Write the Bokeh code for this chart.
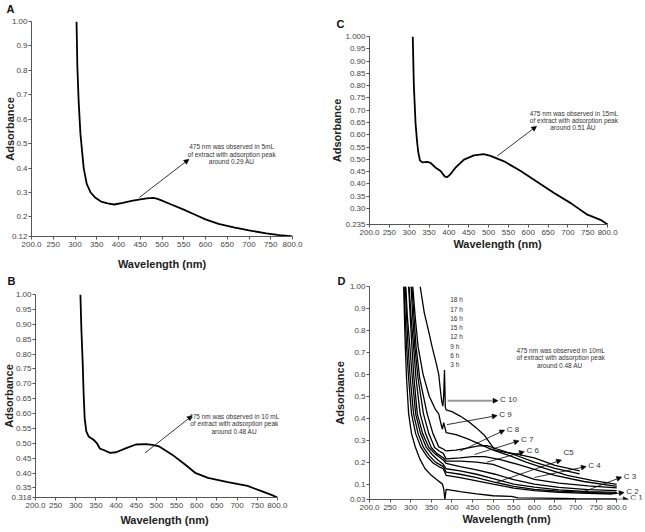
from bokeh.plotting import figure
from bokeh.layouts import column, row
from bokeh.models import Range1d, FixedTicker, Arrow, NormalHead, Label, Title
from bokeh.embed import file_html
from bokeh.resources import INLINE

# ---------------- data ----------------
x_ticks = [200, 250, 300, 350, 400, 450, 500, 550, 600, 650, 700, 750, 800]
x_tick_labels = ["200.0", "250", "300", "350", "400", "450", "500", "550", "600",
                 "650", "700", "750", "800.0"]

# Panel A (5 mL)
a_wl = [303.5, 305.5, 308.5, 312.5, 320, 327, 336, 346, 360, 375, 390, 410, 430, 450,
        465, 480, 490, 500, 520, 550, 575, 600, 630, 665, 700, 740, 770, 795, 800]
a_abs = [1.00, 0.81, 0.67, 0.54, 0.40, 0.335, 0.30, 0.28, 0.263, 0.256, 0.251, 0.258,
         0.266, 0.272, 0.276, 0.278, 0.274, 0.267, 0.252, 0.230, 0.210, 0.190, 0.172,
         0.157, 0.145, 0.133, 0.126, 0.121, 0.12]
a_yticks = [0.12, 0.2, 0.3, 0.4, 0.5, 0.6, 0.7, 0.8, 0.9, 1.0]
a_ylabels = ["0.12", "0.2", "0.3", "0.4", "0.5", "0.6", "0.7", "0.8", "0.9", "1.00"]
a_note = ["475 nm was observed in 5mL", "of extract with adsorption peak", "around 0.29 AU"]

# Panel B (10 mL)
b_wl = [311.4, 313.8, 317, 319.5, 322, 326, 331.7, 344, 352, 360, 372, 385, 400, 425,
        449, 474, 490, 506, 539, 571, 596, 628, 677, 726, 759, 787, 800]
b_abs = [1.0, 0.884, 0.773, 0.662, 0.584, 0.54, 0.523, 0.512, 0.501, 0.482, 0.476, 0.468,
         0.47, 0.484, 0.496, 0.497, 0.495, 0.49, 0.462, 0.429, 0.401, 0.384, 0.37, 0.357,
         0.34, 0.326, 0.318]
b_yticks = [0.318, 0.35, 0.40, 0.45, 0.50, 0.55, 0.60, 0.65, 0.70, 0.75, 0.80, 0.85,
            0.90, 0.95, 1.00]
b_ylabels = ["0.318", "0.35", "0.40", "0.45", "0.50", "0.55", "0.60", "0.65", "0.70",
             "0.75", "0.80", "0.85", "0.90", "0.95", "1.00"]
b_note = ["475 nm was observed in 10 mL", "of extract with adsorption peak", "around 0.48 AU"]

# Panel C (15 mL)
c_wl = [309, 311.7, 316, 320, 322.7, 327, 333, 345, 354, 366, 379, 390, 396, 404, 417,
        438, 463, 488, 505, 539, 581, 623, 665, 707, 749, 782, 800]
c_abs = [1.0, 0.803, 0.647, 0.57, 0.531, 0.496, 0.488, 0.49, 0.486, 0.467, 0.453, 0.43,
         0.428, 0.44, 0.467, 0.499, 0.516, 0.521, 0.514, 0.492, 0.453, 0.408, 0.363,
         0.322, 0.275, 0.254, 0.235]
c_yticks = [0.235, 0.30, 0.35, 0.40, 0.45, 0.50, 0.55, 0.60, 0.65, 0.70, 0.75, 0.80,
            0.85, 0.90, 0.95, 1.000]
c_ylabels = ["0.235", "0.30", "0.35", "0.40", "0.45", "0.50", "0.55", "0.60", "0.65",
             "0.70", "0.75", "0.80", "0.85", "0.90", "0.95", "1.000"]
c_note = ["475 nm was observed in 15mL", "of extract with adsorption peak", "around 0.51  AU"]

# Panel D (10 mL, time course)
d_wl = {
    "C 10": [323, 333, 343, 352, 362, 368, 372, 375, 378, 380, 382, 384, 386, 400, 420,
             440, 460, 480, 495, 505, 530, 560, 600, 650, 710],
    "C 9": [305, 311, 318, 330, 345, 360, 368, 374, 377, 380, 386, 410, 440, 470,
            500, 540, 580, 620, 680, 740, 800],
    "C 8": [303, 308, 313, 322, 340, 354, 368, 379, 386, 410, 440, 465, 485,
            510, 550, 600, 650, 710],
    "C 7": [301, 305, 310, 318, 331, 344, 358, 370, 379, 386, 420, 450, 480, 520,
            560, 600, 650, 720, 800],
    "C 6": [296, 301, 307, 313, 323, 336, 350, 363, 379, 386, 420, 460, 500, 550,
            600, 660, 730, 800],
    "C5": [295, 299, 303, 308, 316, 329, 344, 358, 370, 379, 386, 420, 460, 505, 550,
           600, 660, 730, 800],
    "C 4": [288, 292, 298, 304, 312, 324, 338, 352, 366, 379, 386, 420, 460, 500, 550,
            600, 660, 730, 800],
    "C 3": [287, 290, 293.6, 299, 307, 318, 331, 345, 360, 379, 386, 420, 460, 500, 550,
            600, 660, 730, 800],
    "C 2": [284, 287, 290, 295, 302, 312, 325, 340, 355, 368, 379, 386, 420, 460, 500, 550,
            600, 660, 730, 790],
    "C 1": [283, 285, 287, 290, 295, 302, 311, 322, 335, 350, 365, 377, 380, 383, 386, 420,
            460, 500, 545, 560, 620, 700, 800],
}
d_abs = {
    "C 10": [1.0, 0.88, 0.8, 0.725, 0.65, 0.6, 0.53, 0.48, 0.455, 0.5, 0.62, 0.45, 0.438,
             0.43, 0.41, 0.385, 0.355, 0.32, 0.28, 0.255, 0.245, 0.235, 0.22, 0.185, 0.16],
    "C 9": [1.0, 0.86, 0.725, 0.6, 0.5, 0.44, 0.42, 0.37, 0.35, 0.38, 0.335, 0.325,
            0.305, 0.28, 0.255, 0.23, 0.2, 0.175, 0.14, 0.117, 0.099],
    "C 8": [1.0, 0.86, 0.725, 0.58, 0.42, 0.33, 0.27, 0.26, 0.251, 0.255, 0.265,
            0.274, 0.275, 0.26, 0.235, 0.2, 0.172, 0.147],
    "C 7": [1.0, 0.86, 0.725, 0.58, 0.42, 0.33, 0.267, 0.25, 0.24, 0.215, 0.22, 0.225,
            0.225, 0.21, 0.19, 0.167, 0.14, 0.112, 0.09],
    "C 6": [1.0, 0.86, 0.725, 0.58, 0.42, 0.33, 0.267, 0.24, 0.22, 0.205, 0.205, 0.2,
            0.19, 0.155, 0.122, 0.105, 0.092, 0.083],
    "C5": [1.0, 0.86, 0.725, 0.58, 0.42, 0.33, 0.267, 0.24, 0.222, 0.21, 0.195, 0.18, 0.165,
           0.145, 0.12, 0.1, 0.085, 0.075, 0.07],
    "C 4": [1.0, 0.86, 0.725, 0.58, 0.42, 0.33, 0.267, 0.235, 0.21, 0.19, 0.17, 0.16, 0.145,
            0.125, 0.1, 0.086, 0.074, 0.066, 0.062],
    "C 3": [1.0, 0.86, 0.725, 0.58, 0.42, 0.33, 0.267, 0.23, 0.2, 0.18, 0.155, 0.145, 0.13,
            0.11, 0.09, 0.076, 0.068, 0.062, 0.058],
    "C 2": [1.0, 0.85, 0.725, 0.58, 0.42, 0.33, 0.267, 0.225, 0.195, 0.18, 0.17, 0.14, 0.13,
            0.115, 0.1, 0.082, 0.07, 0.063, 0.058, 0.055],
    "C 1": [1.0, 0.85, 0.72, 0.58, 0.42, 0.33, 0.27, 0.215, 0.17, 0.14, 0.118, 0.1, 0.08,
            0.03, 0.076, 0.066, 0.056, 0.047, 0.044, 0.037, 0.036, 0.034, 0.033],
}
d_yticks = [0.03, 0.1, 0.2, 0.3, 0.4, 0.5, 0.6, 0.7, 0.8, 0.9, 1.0]
d_ylabels = ["0.03", "0.1", "0.2", "0.3", "0.4", "0.5", "0.6", "0.7", "0.8", "0.9", "1.00"]
d_hours = ["18 h", "17 h", "16 h", "15 h", "12 h", "9 h", "6 h", "3 h"]
d_note = ["475 nm was observed in 10mL", "of extract with adsorption peak", "around 0.48  AU"]
# arrow (start wl, start abs) -> (end wl, end abs) for each curve label
d_arrow_start = {"C 10": (389.5, 0.48), "C 9": (388, 0.371), "C 8": (420, 0.25),
                 "C 7": (455, 0.235), "C 6": (485, 0.2), "C5": (505, 0.106),
                 "C 4": (600, 0.13), "C 3": (712, 0.06), "C 2": (791, 0.055),
                 "C 1": (795, 0.031)}
d_arrow_end = {"C 10": (512, 0.48), "C 9": (510, 0.412), "C 8": (528, 0.346),
               "C 7": (563, 0.297), "C 6": (576, 0.248), "C5": (666, 0.21),
               "C 4": (726, 0.18), "C 3": (812, 0.132), "C 2": (818, 0.062),
               "C 1": (828, 0.031)}

FONT = "Liberation Sans"


def style(p, yticks, ylabels, letter, title_offset, ystand, xstand, spacer):
    p.xgrid.visible = False
    p.ygrid.visible = False
    p.outline_line_color = None
    p.frame_align = False
    p.xaxis.ticker = FixedTicker(ticks=x_ticks)
    p.xaxis.major_label_overrides = {t: l for t, l in zip(x_ticks, x_tick_labels)}
    p.xaxis.bounds = (200, 800)
    p.yaxis.ticker = FixedTicker(ticks=yticks)
    p.yaxis.major_label_overrides = {t: l for t, l in zip(yticks, ylabels)}
    p.xaxis.axis_label = "Wavelength (nm)"
    p.yaxis.axis_label = "Adsorbance"
    for ax in (p.xaxis[0], p.yaxis[0]):
        ax.axis_line_color = "#555555"
        ax.axis_line_width = 1
        ax.major_tick_line_color = "#555555"
        ax.minor_tick_line_color = None
        ax.major_tick_out = 3
        ax.major_tick_in = 0
        ax.major_label_text_font = FONT
        ax.major_label_text_font_size = "8px"
        ax.major_label_text_color = "#444444"
        ax.major_label_standoff = 1
        ax.axis_label_text_font = FONT
        ax.axis_label_text_font_style = "bold"
        ax.axis_label_text_font_size = "11px"
        ax.axis_label_text_color = "#222222"
    p.yaxis[0].axis_label_standoff = ystand
    p.xaxis[0].axis_label_standoff = xstand
    p.xaxis[0].major_label_standoff = 2
    p.title.text = letter
    p.title.text_font = FONT
    p.title.text_font_size = "11px"
    p.title.text_font_style = "bold"
    p.title.text_color = "#111111"
    p.title.align = "left"
    p.title.offset = title_offset
    p.title.standoff = 0
    if spacer:
        # empty spacer between the panel letter and the frame
        p.add_layout(Title(text=" ", text_font_size=spacer, standoff=0), "above")


def note(p, lines, xc, ys, size="6.5px"):
    for t, y in zip(lines, ys):
        p.add_layout(Label(x=xc, y=y, text=t, text_align="center", text_baseline="middle",
                           text_font=FONT, text_font_size=size, text_color="#333333"))


def arrow(p, x0, y0, x1, y1, color="black", width=0.8, size=5):
    p.add_layout(Arrow(end=NormalHead(size=size, fill_color="black", line_color="black",
                                      line_width=0.5),
                       x_start=x0, y_start=y0, x_end=x1, y_end=y1,
                       line_color=color, line_width=width))


# ---------------- Panel A ----------------
pA = figure(width=320, height=272, x_range=Range1d(200, 800), y_range=Range1d(0.12, 1.0),
            output_backend="svg", toolbar_location=None,
            min_border_left=27, min_border_right=28, min_border_top=19, min_border_bottom=36)
style(pA, a_yticks, a_ylabels, "A", -25, -7, 8, "4px")
pA.line(a_wl, a_abs, line_color="black", line_width=1.8)
arrow(pA, 448, 0.28, 562, 0.436)
note(pA, a_note, 660, [0.487, 0.456, 0.425])

# ---------------- Panel C ----------------
pC = figure(width=324, height=272, x_range=Range1d(200, 845), y_range=Range1d(0.235, 1.0),
            output_backend="svg", toolbar_location=None,
            min_border_left=49, min_border_right=19, min_border_top=36, min_border_bottom=48)
style(pC, c_yticks, c_ylabels, "C", -33, -1, 0, "4px")
pC.line(c_wl, c_abs, line_color="black", line_width=1.8)
arrow(pC, 522, 0.514, 621, 0.635)
note(pC, c_note, 715, [0.686, 0.658, 0.628])

# ---------------- Panel B ----------------
pB = figure(width=320, height=258, x_range=Range1d(200, 840), y_range=Range1d(0.318, 1.0),
            output_backend="svg", toolbar_location=None,
            min_border_left=31, min_border_right=27, min_border_top=20, min_border_bottom=33)
style(pB, b_yticks, b_ylabels, "B", -28, -7, 3, "5px")
pB.line(b_wl, b_abs, line_color="black", line_width=1.8)
arrow(pB, 472, 0.468, 589, 0.593)
note(pB, b_note, 693, [0.59, 0.566, 0.541])

# ---------------- Panel D ----------------
pD = figure(width=324, height=258, x_range=Range1d(200, 865), y_range=Range1d(0.03, 1.0),
            output_backend="svg", toolbar_location=None,
            min_border_left=49, min_border_right=1, min_border_top=14, min_border_bottom=31)
style(pD, d_yticks, d_ylabels, "D", -32, 1, 0, None)
for k in d_wl:
    pD.line(d_wl[k], d_abs[k], line_color="black", line_width=1.3)
for k in d_wl:
    (x0, y0), (x1, y1) = d_arrow_start[k], d_arrow_end[k]
    if k == "C 10":
        arrow(pD, x0, y0, x1, y1, color="#9a9a9a", width=2)
    else:
        arrow(pD, x0, y0, x1, y1)
    if k == "C 1":
        pD.add_layout(Label(x=x1, y=0.03, x_offset=2, y_offset=-2, text=k,
                            text_align="left", text_baseline="bottom", text_font=FONT,
                            text_font_size="8px", text_color="#333333"))
    else:
        pD.add_layout(Label(x=x1, y=y1, x_offset=2, y_offset=7 if k == "C5" else 1, text=k,
                            text_align="left", text_baseline="middle", text_font=FONT,
                            text_font_size="8px", text_color="#333333"))
for i, h in enumerate(d_hours):
    pD.add_layout(Label(x=396, y=0.939 - 0.0421 * i, text=h, text_align="left",
                        text_baseline="middle", text_font=FONT, text_font_size="6.5px",
                        text_color="#333333"))
note(pD, d_note, 664, [0.71, 0.677, 0.641])

layout = column(row(pA, pC), row(pB, pD))
open("out.html", "w").write(file_html(layout, INLINE))
